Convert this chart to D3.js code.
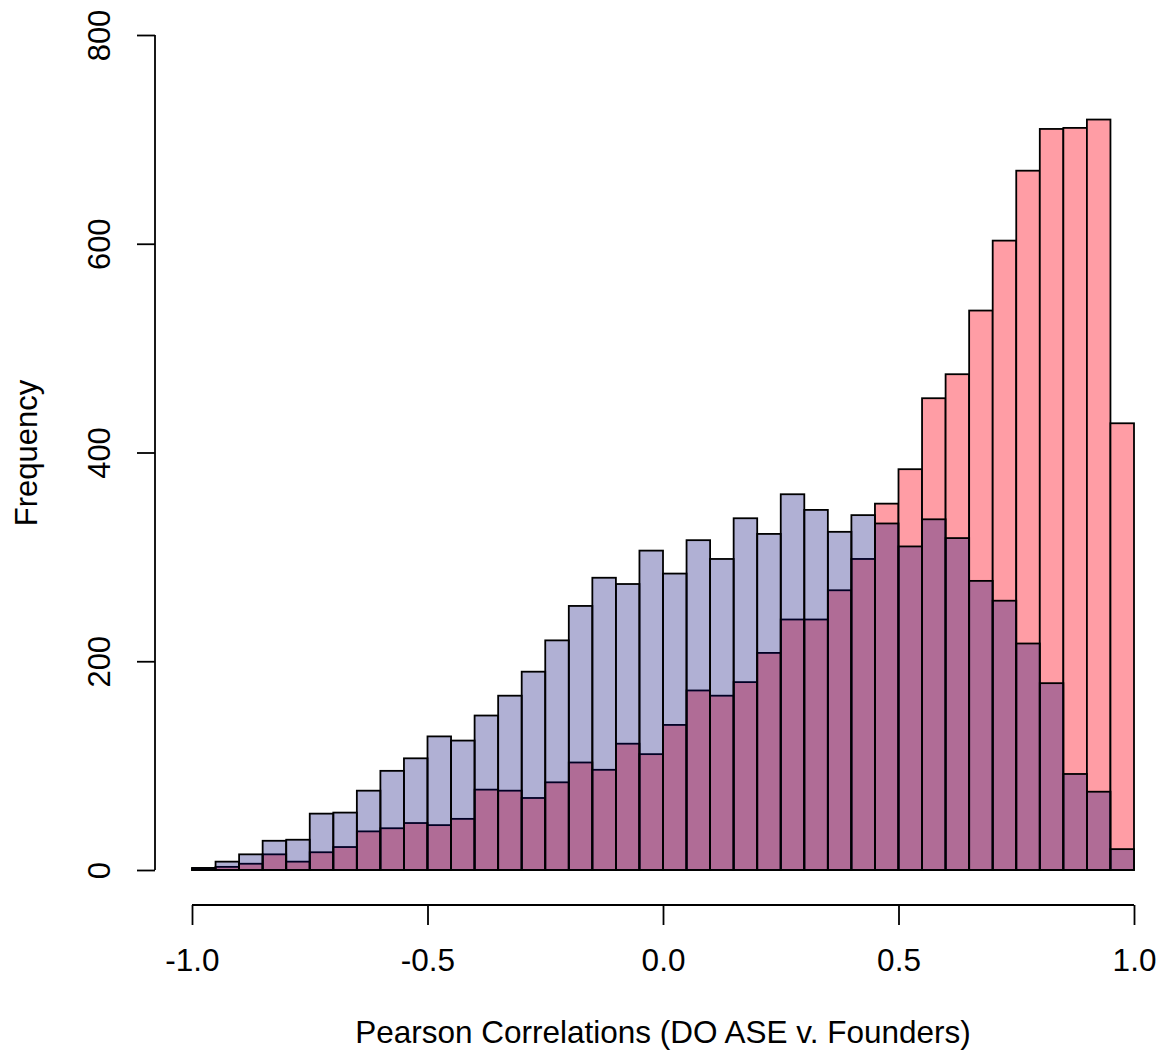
<!DOCTYPE html>
<html>
<head>
<meta charset="utf-8">
<script src="https://cdn.jsdelivr.net/npm/d3@7"></script>
<style>
  body { margin: 0; background: #fff; }
  text { font-family: "Liberation Sans", Arial, Helvetica, sans-serif; fill: #000; }
</style>
</head>
<body>
<script>
// bin lower edges (width 0.05)
var binStarts = [-1.00, -0.95, -0.90, -0.85, -0.80, -0.75, -0.70, -0.65, -0.60, -0.55,
                 -0.50, -0.45, -0.40, -0.35, -0.30, -0.25, -0.20, -0.15, -0.10, -0.05,
                  0.00,  0.05,  0.10,  0.15,  0.20,  0.25,  0.30,  0.35,  0.40,  0.45,
                  0.50,  0.55,  0.60,  0.65,  0.70,  0.75,  0.80,  0.85,  0.90,  0.95];
var binWidth = 0.05;

// counts
var redCounts = [1, 3, 6, 15, 8, 17, 22, 37, 40, 45,
                 43, 49, 77, 76, 69, 84, 103, 96, 121, 111,
                 139, 172, 167, 180, 208, 240, 240, 268, 298, 351,
                 384, 452, 475, 536, 603, 670, 710, 711, 719, 428];
var blueCounts = [2, 8, 15, 28, 29, 54, 55, 76, 95, 107,
                  128, 124, 148, 167, 190, 220, 253, 280, 274, 306,
                  284, 316, 298, 337, 322, 360, 345, 324, 340, 332,
                  310, 336, 318, 277, 258, 217, 179, 92, 75, 20];

var xTicks = [-1.0, -0.5, 0.0, 0.5, 1.0];
var yTicks = [0, 200, 400, 600, 800];

var width = 1160, height = 1055;

var svg = d3.select("body").append("svg").attr("width", width).attr("height", height);

var x = d3.scaleLinear().domain([-1, 1]).range([192, 1134]);
var y = d3.scaleLinear().domain([0, 800]).range([870, 35]);

//Bars
function drawHist(counts, fill, opacity)
{
    svg.append("g").selectAll("rect").data(counts).enter().append("rect")
        .attr("x", (d, i) => x(binStarts[i]))
        .attr("y", d => y(d))
        .attr("width", (d, i) => x(binStarts[i] + binWidth) - x(binStarts[i]))
        .attr("height", d => y(0) - y(d))
        .attr("fill", fill)
        .attr("fill-opacity", opacity)
        .attr("stroke", "#000")
        .attr("stroke-width", 1.8);
}
drawHist(redCounts, "rgb(255,157,165)", 1);
drawHist(blueCounts, "rgb(0,0,116)", 0.31);

//Axes
var xAxis = svg.append("g").attr("transform", "translate(0,905)")
    .call(d3.axisBottom(x).tickValues(xTicks).tickSize(20).tickPadding(24).tickFormat(d3.format(".1f")));
xAxis.select(".domain").attr("stroke", "#000").attr("stroke-width", 1.8).attr("d", "M192,0H1134");
xAxis.selectAll(".tick line").attr("stroke", "#000").attr("stroke-width", 1.8);
xAxis.selectAll(".tick text").attr("font-size", 31.5).attr("font-family", null).text(d => d3.format(".1f")(d).replace("−", "-"));

var yAxis = svg.append("g").attr("transform", "translate(155,0)")
    .call(d3.axisLeft(y).tickValues(yTicks).tickSize(18));
yAxis.select(".domain").attr("stroke", "#000").attr("stroke-width", 1.8).attr("d", "M0,35V870");
yAxis.selectAll(".tick line").attr("stroke", "#000").attr("stroke-width", 1.8);
yAxis.selectAll(".tick text").attr("font-size", 31).attr("font-family", null)
    .attr("x", null).attr("dy", null)
    .attr("text-anchor", "middle")
    .attr("transform", "translate(-45,0) rotate(-90)");

//Titles
svg.append("text").attr("x", 663).attr("y", 1043).attr("text-anchor", "middle")
    .attr("font-size", 31.5).text("Pearson Correlations (DO ASE v. Founders)");
svg.append("text").attr("transform", "translate(37,453) rotate(-90)").attr("text-anchor", "middle")
    .attr("font-size", 31).text("Frequency");
</script>
</body>
</html>
